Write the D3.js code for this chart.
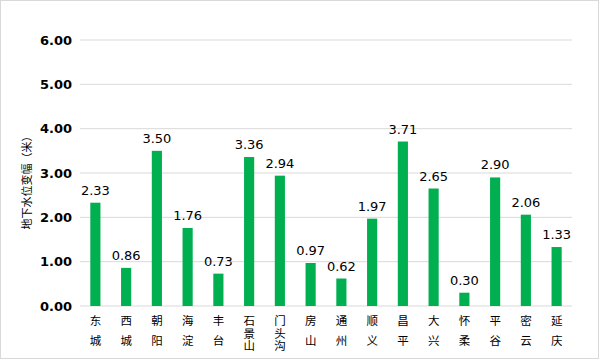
<!DOCTYPE html>
<html><head><meta charset="utf-8">
<script src="https://cdn.jsdelivr.net/npm/d3@7"></script>
<style>body{margin:0;background:#fff;}svg{display:block;}</style>
</head><body>
<svg id="c" width="600" height="360"></svg>
<script>
const categories = ["东城","西城","朝阳","海淀","丰台","石景山","门头沟","房山","通州","顺义","昌平","大兴","怀柔","平谷","密云","延庆"];
const values = [2.33,0.86,3.50,1.76,0.73,3.36,2.94,0.97,0.62,1.97,3.71,2.65,0.30,2.90,2.06,1.33];
const yTicks = [0,1,2,3,4,5,6];
const yTitle = "地下水位变幅（米）";

const svg = d3.select("#c");
svg.append("rect").attr("x",0.5).attr("y",0.5).attr("width",598).attr("height",358)
  .attr("fill","#fff").attr("stroke","#d9d9d9");

const pL=80,pR=572,pT=40,pB=306;
const x = d3.scaleBand().domain(categories).range([pL,pR]).paddingInner(0.67).paddingOuter(0.335);
const y = d3.scaleLinear().domain([0,6]).range([pB,pT]);

const g = svg.append("g");
g.selectAll("line.grid").data(yTicks).enter().append("line")
  .attr("x1",pL).attr("x2",pR).attr("y1",d=>y(d)).attr("y2",d=>y(d))
  .attr("stroke","#d9d9d9").attr("stroke-width",1);

const yAxis = svg.append("g").attr("transform",`translate(${pL},0)`)
  .call(d3.axisLeft(y).tickValues(yTicks).tickFormat(d3.format(".2f")).tickSize(0).tickPadding(8));
yAxis.select(".domain").remove();
yAxis.selectAll("text").attr("font-family","DejaVu Sans").attr("font-size",13).attr("font-weight","bold").attr("fill","#000");

svg.selectAll("rect.bar").data(values).enter().append("rect")
  .attr("x",(d,i)=>x(categories[i])).attr("width",x.bandwidth())
  .attr("y",d=>y(d)).attr("height",d=>y(0)-y(d)).attr("fill","#00b050");

svg.selectAll("text.val").data(values).enter().append("text")
  .attr("x",(d,i)=>x(categories[i])+x.bandwidth()/2).attr("y",d=>y(d)-8)
  .attr("text-anchor","middle").attr("font-family","DejaVu Sans").attr("font-size",13).attr("fill","#000")
  .text(d=>d.toFixed(2));

svg.selectAll("text.cat").data(categories).enter().append("text")
  .attr("x",d=>x(d)+x.bandwidth()/2).attr("y",315)
  .style("writing-mode","vertical-rl")
  .attr("font-family","Noto Sans CJK SC").attr("font-size",11.5).attr("fill","#000")
  .attr("letter-spacing",d=>d.length>2?1:8)
  .text(d=>d);

svg.append("text").attr("transform","translate(31,180) rotate(-90)")
  .attr("text-anchor","middle").attr("font-family","Noto Sans CJK SC").attr("font-size",11).attr("fill","#000")
  .text(yTitle);
</script>
</body></html>
